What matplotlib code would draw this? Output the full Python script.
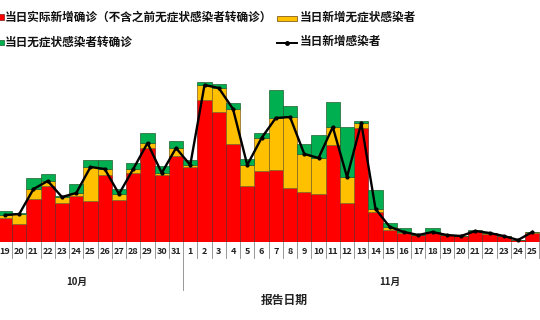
import numpy as np
import matplotlib
matplotlib.use('Agg')
import matplotlib.pyplot as plt
import matplotlib.patches as patches
from matplotlib.lines import Line2D

plt.rcParams['font.family'] = ['Noto Sans CJK SC', 'DejaVu Sans']

# report dates: 10/19 - 11/25
day_labels = [str(d) for d in range(19, 32)] + [str(d) for d in range(1, 26)]
month_labels = ['10月', '11月']

# daily new confirmed (excluding converted asymptomatic)
confirmed = [24, 18, 43, 56, 39, 46, 41, 67, 42, 69, 94, 67, 86,
             75, 142, 130, 98, 56, 71, 72, 54, 50, 48, 97, 39, 114, 30,
             12, 9, 7, 10, 7, 6, 11, 8, 6, 2, 9]
# daily new asymptomatic
asymptomatic = [3, 10, 10, 5, 6, 3, 34, 6, 6, 4, 5, 2, 8,
                2, 15, 24, 35, 21, 33, 52, 71, 38, 36, 18, 26, 5, 3,
                3, 1, 0, 0, 0, 0, 0, 1, 0, 0, 1]
# asymptomatic converted to confirmed
converted = [4, 1, 11, 7, 1, 9, 7, 9, 5, 6, 10, 7, 7,
             5, 3, 4, 6, 6, 5, 28, 11, 10, 23, 25, 50, 2, 19,
             4, 4, 0, 4, 0, 0, 1, 0, 0, 0, 0]
# daily new infections (line)
new_infections = [27, 28, 53, 61, 45, 49, 75, 73, 48, 73, 99, 69, 94,
                  77, 157, 154, 133, 77, 104, 124, 125, 88, 84, 115, 65, 119, 33,
                  15, 10, 7, 10, 7, 6, 11, 9, 6, 2, 10]

RED = '#FF0000'
YELLOW = '#FFC000'
GREEN = '#00B050'

fig = plt.figure(figsize=(5.4, 3.2), dpi=100)
ax = fig.add_axes([0, 78 / 320, 1, 182 / 320])

x = np.arange(len(day_labels))
c = np.array(confirmed)
a = np.array(asymptomatic)
g = np.array(converted)

ax.bar(x, c, width=1.0, color=RED, edgecolor='#7a2020', linewidth=0.5)
ax.bar(x, a, width=1.0, bottom=c, color=YELLOW, edgecolor='#806020', linewidth=0.5)
ax.bar(x, g, width=1.0, bottom=c + a, color=GREEN, edgecolor='#1f5f30', linewidth=0.5)
ax.plot(x, new_infections, color='black', linewidth=1.7, marker='o', markersize=2)

ax.set_xlim(-0.35, 37.54)
ax.set_ylim(0, 182)
ax.axis('off')

# day labels and separators below the bars
trans = ax.get_xaxis_transform()
for i, lab in enumerate(day_labels):
    ax.text(i, -0.05, lab, transform=trans, ha='center', va='center',
            fontsize=6.5, fontweight='bold', color='#222222')
n_oct = 13
for i in range(len(day_labels) + 1):
    xb = i - 0.5
    ybot = -0.265 if i == n_oct else -0.09
    ax.plot([xb, xb], [0, ybot], transform=trans, color='#888888',
            linewidth=0.6, clip_on=False)

ax.text(5.05, -0.22, month_labels[0], transform=trans, ha='center', va='center',
        fontsize=7, fontweight='bold', color='#222222')
ax.text(27.0, -0.22, month_labels[1], transform=trans, ha='center', va='center',
        fontsize=7, fontweight='bold', color='#222222')
ax.text(19.6, -0.32, '报告日期', transform=trans, ha='center', va='center',
        fontsize=8.5, fontweight='bold', color='#222222')

# legend, drawn by hand in pixel coords
def px(xp, yp):
    return xp / 540, 1 - yp / 320

leg_font = dict(fontsize=8.4, fontweight='bold', color='#111111', va='center', ha='left')
fig.patches.append(patches.Rectangle(px(-1, 20), 5 / 540, 6 / 320, transform=fig.transFigure,
                                     facecolor=RED, edgecolor='#7a2020', linewidth=0.5))
fig.text(*px(5, 17.5), '当日实际新增确诊（不含之前无症状感染者转确诊）', **leg_font)
fig.patches.append(patches.Rectangle(px(277, 20.5), 20 / 540, 5 / 320, transform=fig.transFigure,
                                     facecolor=YELLOW, edgecolor='#806020', linewidth=0.6))
fig.text(*px(300, 17.5), '当日新增无症状感染者', **leg_font)
fig.patches.append(patches.Rectangle(px(-1, 45), 5 / 540, 5 / 320, transform=fig.transFigure,
                                     facecolor=GREEN, edgecolor='#1f5f30', linewidth=0.5))
fig.text(*px(5, 42), '当日无症状感染者转确诊', **leg_font)
fig.lines.append(Line2D([277 / 540, 297 / 540], [1 - 42.7 / 320] * 2, transform=fig.transFigure,
                        color='black', linewidth=1.4))
fig.lines.append(Line2D([287 / 540], [1 - 42.7 / 320], transform=fig.transFigure,
                        color='black', marker='o', markersize=2.5))
fig.text(*px(300, 42), '当日新增感染者', **leg_font)

fig.savefig('out.png', dpi=100)
